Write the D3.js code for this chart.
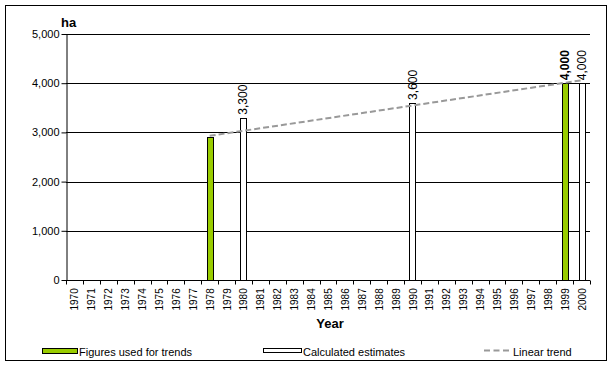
<!DOCTYPE html>
<html>
<head>
<meta charset="utf-8">
<script src="https://cdn.jsdelivr.net/npm/d3@7"></script>
<style>
  body { margin: 0; background: #fff; }
  text { font-family: "Liberation Sans", Arial, sans-serif; fill: #000; }
</style>
</head>
<body>
<svg id="chart" width="613" height="368"></svg>
<script>
// Categories (x axis)
var years = ['1970', '1971', '1972', '1973', '1974', '1975', '1976', '1977', '1978', '1979',
  '1980', '1981', '1982', '1983', '1984', '1985', '1986', '1987', '1988', '1989',
  '1990', '1991', '1992', '1993', '1994', '1995', '1996', '1997', '1998', '1999', '2000'];

// Figures used for trends (green)
var figureYears = ['1978', '1999'];
var figureValues = [2900, 4000];
var figureLabelled = [false, true];

// Calculated estimates (white)
var estimateYears = ['1980', '1990', '2000'];
var estimateValues = [3300, 3600, 4000];

// Linear trend end points
var trendYears = ['1978', '2000'];
var trendValues = [2930, 4060];

var yTicks = [0, 1000, 2000, 3000, 4000, 5000];

var svg = d3.select('#chart');
var margin = { top: 34, right: 23, bottom: 88, left: 66 };
var width = +svg.attr('width') - margin.left - margin.right;
var height = +svg.attr('height') - margin.top - margin.bottom;

// outer frame
svg.append('rect')
  .attr('x', 5.5).attr('y', 5.5)
  .attr('width', 601).attr('height', 355)
  .attr('fill', 'none').attr('stroke', '#000');

var x = d3.scaleBand().domain(years).range([0, width]).paddingInner(0.64).paddingOuter(0.32);
var xb = d3.scaleBand().domain(years).range([0, width]);
var y = d3.scaleLinear().domain([0, 5000]).range([height, 0]);

var g = svg.append('g').attr('transform', 'translate(' + margin.left + ',' + margin.top + ')');

// grid lines
g.append('g')
  .selectAll('line')
  .data(yTicks.slice(1))
  .enter().append('line')
  .attr('x1', 0).attr('x2', width)
  .attr('y1', function(d) { return Math.round(y(d)) + 0.5; })
  .attr('y2', function(d) { return Math.round(y(d)) + 0.5; })
  .attr('stroke', '#000');

// bars
function drawBars(yrs, vals, fill) {
  g.append('g')
    .selectAll('rect')
    .data(yrs)
    .enter().append('rect')
    .attr('x', function(d) { return Math.round(x(d)) + 0.5; })
    .attr('y', function(d, i) { return Math.round(y(vals[i])) + 0.5; })
    .attr('width', Math.round(x.bandwidth()))
    .attr('height', function(d, i) { return Math.round(height - y(vals[i])); })
    .attr('fill', fill)
    .attr('stroke', '#000');
}
drawBars(figureYears, figureValues, '#99cc00');
drawBars(estimateYears, estimateValues, '#ffffff');

// data labels (rotated)
function drawLabels(yrs, vals, bold) {
  g.append('g')
    .selectAll('text')
    .data(yrs)
    .enter().append('text')
    .attr('transform', function(d, i) {
      var cx = xb(d) + xb.bandwidth() / 2 + 4;
      return 'translate(' + cx + ',' + (y(vals[i]) - 3) + ') rotate(-90)';
    })
    .style('font-size', '12px')
    .style('font-weight', function(d, i) { return bold[i] ? 'bold' : 'normal'; })
    .text(function(d, i) { return d3.format(',')(vals[i]); });
}
drawLabels(estimateYears, estimateValues, estimateYears.map(function() { return false; }));
drawLabels(figureYears.filter(function(d, i) { return figureLabelled[i]; }),
  figureValues.filter(function(d, i) { return figureLabelled[i]; }), [true]);

// linear trend
var trendLine = d3.line()
  .x(function(d) { return xb(d) + xb.bandwidth() / 2; })
  .y(function(d, i) { return y(trendValues[i]); });
g.append('path')
  .datum(trendYears)
  .attr('d', trendLine)
  .attr('fill', 'none')
  .attr('stroke', '#999999')
  .attr('stroke-width', 2)
  .attr('stroke-dasharray', '6,3');

// y axis
var yAxis = g.append('g')
  .attr('transform', 'translate(0.5,0)')
  .call(d3.axisLeft(y).tickValues(yTicks).tickFormat(d3.format(',')).tickSize(5).tickSizeOuter(0));
yAxis.selectAll('text').style('font-size', '11px').attr('x', -7);
yAxis.selectAll('line,path').attr('stroke', '#000');

// x axis with ticks on band boundaries
var xAxis = g.append('g').attr('transform', 'translate(0,' + (height + 0.5) + ')');
xAxis.append('line').attr('x1', 0).attr('x2', width).attr('stroke', '#000');
xAxis.selectAll('line.tick')
  .data(years.concat(['end']))
  .enter().append('line')
  .attr('class', 'tick')
  .attr('x1', function(d, i) { return Math.round(i * xb.step()) + 0.5; })
  .attr('x2', function(d, i) { return Math.round(i * xb.step()) + 0.5; })
  .attr('y1', 0).attr('y2', 4)
  .attr('stroke', '#000');
xAxis.selectAll('text')
  .data(years)
  .enter().append('text')
  .attr('transform', function(d) {
    return 'translate(' + (xb(d) + xb.bandwidth() / 2 + 4) + ',' + 30 + ') rotate(-90)';
  })
  .style('font-size', '10px')
  .text(function(d) { return d; });

// axis titles
svg.append('text')
  .attr('x', 61).attr('y', 27)
  .style('font-size', '13px').style('font-weight', 'bold')
  .text('ha');
svg.append('text')
  .attr('x', 330).attr('y', 328)
  .attr('text-anchor', 'middle')
  .style('font-size', '13px').style('font-weight', 'bold')
  .text('Year');

// legend
var legend = svg.append('g');
legend.append('rect').attr('x', 42.5).attr('y', 348.5).attr('width', 35).attr('height', 5)
  .attr('fill', '#99cc00').attr('stroke', '#000');
legend.append('text').attr('x', 79).attr('y', 356).style('font-size', '11px').text('Figures used for trends');
legend.append('rect').attr('x', 263.5).attr('y', 348.5).attr('width', 38).attr('height', 4)
  .attr('fill', '#fff').attr('stroke', '#000');
legend.append('text').attr('x', 303).attr('y', 356).style('font-size', '11px').text('Calculated estimates');
legend.append('line').attr('x1', 484).attr('x2', 512).attr('y1', 350.5).attr('y2', 350.5)
  .attr('stroke', '#999999').attr('stroke-width', 2).attr('stroke-dasharray', '6,3.5');
legend.append('text').attr('x', 513).attr('y', 356).style('font-size', '11px').text('Linear trend');
</script>
</body>
</html>
